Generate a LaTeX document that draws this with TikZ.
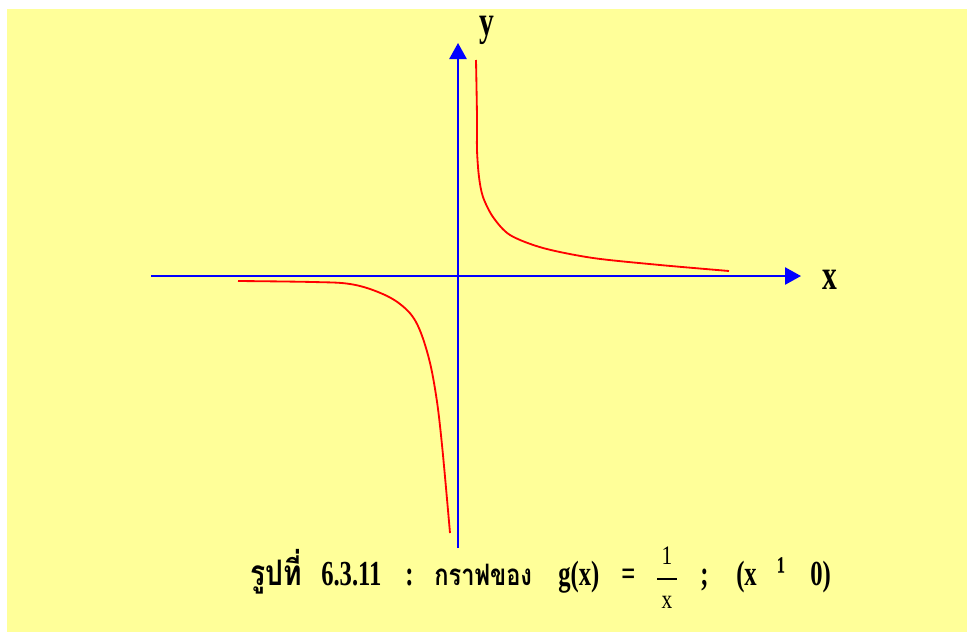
\documentclass[tikz,border=0pt]{standalone}
\usepackage{fontspec}
\setmainfont{Liberation Serif}
\newfontfamily\thaifont[Script=Thai]{Loma}
\usepackage{graphicx}
\usepackage{tikz}
\usetikzlibrary{arrows.meta}

\definecolor{paper}{HTML}{FFFF99}
\newcommand{\squeeze}[2][0.7]{\scalebox{#1}[1]{\bfseries #2}}

\tikzset{
  axis/.style={blue, line width=1.4pt, -{Triangle[length=0.4cm, width=0.43cm]}},
  branch/.style={red, line width=1.3pt},
  capt/.style={inner sep=0pt, anchor=base west, font=\fontsize{25}{28}\selectfont},
}

\begin{document}
\begin{tikzpicture}[x=0.025cm, y=-0.025cm]
        \useasboundingbox (0,0) rectangle (967,632);
        \fill[white] (0,0) rectangle (967,632);
        \fill[paper] (7,9) rectangle (967,632);

        \coordinate (xl) at (151, 276);
        \coordinate (xr) at (801, 276);
        \coordinate (yb) at (458, 548);
        \coordinate (yt) at (458, 43);

        \draw[axis] (xl) -- (xr);
        \draw[axis] (yb) -- (yt);

        \node[inner sep=0pt, font=\fontsize{30}{32}\selectfont] (laby) at (487, 30) {\squeeze{y}};
        \node[inner sep=0pt, font=\fontsize{30}{32}\selectfont] (labx) at (830, 280) {\squeeze{x}};

        % the two branches
        \draw[branch] plot[smooth, tension=0.5] coordinates {(476,60) (477,117) (477,150) (479,177) (483,197) (493,217) (510,235) (543,248) (593,258) (660,265) (729,271)};
        \draw[branch] plot[smooth, tension=0.6] coordinates {(238,281) (313,282) (350,284) (378,292) (400,304) (416,322) (428,355) (436,395) (442,445) (450,533)};

        % caption
        \node[capt] (fig) at (250, 585) {\thaifont\squeeze[0.8]{รูปที่}};
        \node[capt] (num) at (321, 585) {\squeeze{6.3.11}};
        \node[capt] (colon) at (405, 585) {\squeeze{:}};
        \node[capt, font=\fontsize{21}{24}\selectfont] (graph) at (434, 585) {\thaifont\squeeze[0.8]{กราฟของ}};
        \node[capt] (func) at (558, 585) {\squeeze{g(x)}};
        \node[capt] (eq) at (621, 585) {\squeeze{=}};
        \node[inner sep=0pt, font=\fontsize{19}{22}\selectfont] (one) at (667, 556) {\scalebox{0.8}[1]{1}};
        \node[inner sep=0pt, font=\fontsize{19}{22}\selectfont] (den) at (667, 602) {\scalebox{0.8}[1]{x}};
        \draw[line width=0.8pt] (657, 579) -- (677, 579);
        \node[capt] (semi) at (700, 585) {\squeeze{;}};
        \node[capt] (cond) at (736, 585) {\squeeze{(x}};
        \node[capt, font=\fontsize{28}{30}\selectfont] (sup) at (777, 583) {\squeeze{¹}};
        \node[capt] (zero) at (810, 585) {\squeeze{0)}};
    \end{tikzpicture}
\end{document}
